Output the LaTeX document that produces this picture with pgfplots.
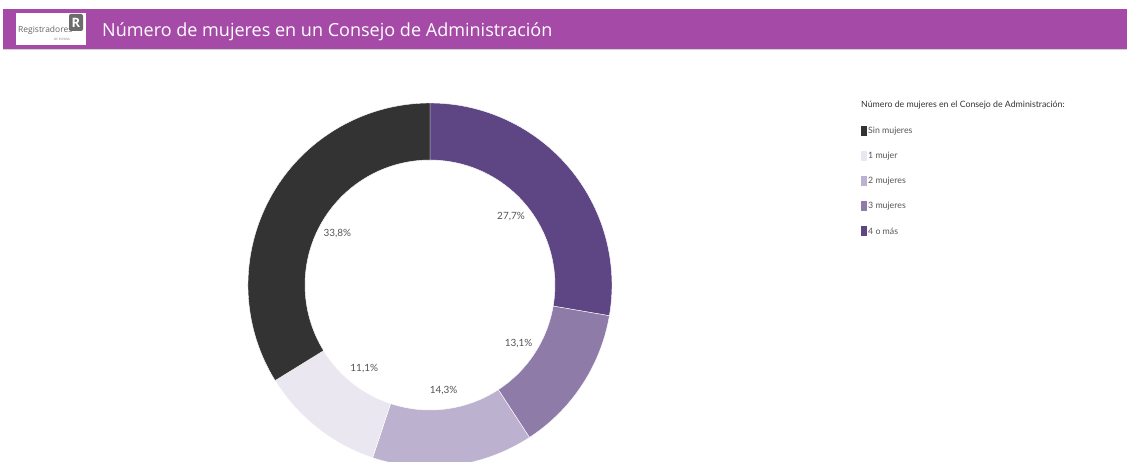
\documentclass[border=0pt]{standalone}
\usepackage{pgfplots}
\pgfplotsset{compat=1.18}
\usepackage{pgfplotstable}
\usepackage{fontspec}
\setmainfont{Open Sans}
\newfontfamily\lato{Lato}
\definecolor{hdr}{RGB}{166,74,168}
\definecolor{c0}{HTML}{333333}
\definecolor{c1}{HTML}{EBE7F0}
\definecolor{c2}{HTML}{BCB1CE}
\definecolor{c3}{HTML}{8E7BA8}
\definecolor{c4}{HTML}{5E4583}
\definecolor{lbl}{HTML}{555555}

\pgfplotstableread[col sep=comma]{
label,value
4 o más,27.7
3 mujeres,13.1
2 mujeres,14.3
1 mujer,11.1
Sin mujeres,33.8
}\donut

\begin{document}
\begin{tikzpicture}
\path[use as bounding box] (0,0) rectangle (1127bp,462bp);
\pgfplotstablegetelem{0}{value}\of\donut \let\vA\pgfplotsretval
\pgfplotstablegetelem{1}{value}\of\donut \let\vB\pgfplotsretval
\pgfplotstablegetelem{2}{value}\of\donut \let\vC\pgfplotsretval
\pgfplotstablegetelem{3}{value}\of\donut \let\vD\pgfplotsretval
\pgfplotstablegetelem{4}{value}\of\donut \let\vE\pgfplotsretval
\pgfmathsetmacro\aA{90}
\pgfmathsetmacro\aB{\aA-3.6*\vA}
\pgfmathsetmacro\aC{\aB-3.6*\vB}
\pgfmathsetmacro\aD{\aC-3.6*\vC}
\pgfmathsetmacro\aE{\aD-3.6*\vD}
\pgfmathsetmacro\aF{\aE-3.6*\vE}
\pgfmathsetmacro\mA{(\aA+\aB)/2}
\pgfmathsetmacro\mB{(\aB+\aC)/2}
\pgfmathsetmacro\mC{(\aC+\aD)/2}
\pgfmathsetmacro\mD{(\aD+\aE)/2}
\pgfmathsetmacro\mE{(\aE+\aF)/2}
\newcommand\sector[3]{%
  \fill[#3,draw=white,line width=0.4bp] (axis cs:430,177) ++(#1:182bp)
    arc[start angle=#1,end angle=#2,radius=182bp] -- ++(#2:-57bp)
    arc[start angle=#2,end angle=#1,radius=125bp] -- cycle;}
\newcommand\plabel[2]{%
  \path (axis cs:430,177) ++(#1:106bp) node[font=\lato\fontsize{10}{11}\selectfont,text=lbl]
    {\pgfmathprintnumber[fixed,fixed zerofill,precision=1,use comma,assume math mode=true]{#2}\%};}
\begin{axis}[
  at={(0,0)}, anchor=origin, disabledatascaling,
  x=1bp, y=1bp, xmin=0, xmax=1127, ymin=0, ymax=462,
  hide axis, clip=true,
]
% header
\fill[hdr] (axis cs:3,413) rectangle (axis cs:1127,453);
\fill[gray!35] (axis cs:3,411.5) rectangle (axis cs:1127,412.5);
\fill[white] (axis cs:16,417) rectangle (axis cs:86,449);
\node[anchor=base west,inner sep=0pt,font=\fontsize{8.5}{9}\selectfont,text=gray!80!black] at (axis cs:18,429) {Registradores};
\node[anchor=base,inner sep=0pt,font=\fontsize{3}{3}\selectfont,text=gray] at (axis cs:62,421) {DE ESPAÑA};
\fill[gray!85!black,rounded corners=2bp] (axis cs:69,431) rectangle (axis cs:83,448);
\node[anchor=center,inner sep=0pt,font=\bfseries\fontsize{13}{13}\selectfont,text=white] at (axis cs:76,439.5) {R};
\node[anchor=base west,inner sep=0pt,font=\fontsize{18.1}{21}\selectfont,text=white] at (axis cs:102,425) {Número de mujeres en un Consejo de Administración};
% donut
\sector{\aA}{\aB}{c4}
\sector{\aB}{\aC}{c3}
\sector{\aC}{\aD}{c2}
\sector{\aD}{\aE}{c1}
\sector{\aE}{\aF}{c0}
\plabel{\mA}{\vA}
\plabel{\mB}{\vB}
\plabel{\mC}{\vC}
\plabel{\mD}{\vD}
\plabel{\mE}{\vE}
% legend
\node[anchor=west,inner sep=0pt,font=\lato\fontsize{8.8}{10}\selectfont,text=c0] at (axis cs:861,357) {Número de mujeres en el Consejo de Administración:};
\fill[c0] (axis cs:861,326) rectangle (axis cs:867,336);
\fill[c1] (axis cs:861,301) rectangle (axis cs:867,311);
\fill[c2] (axis cs:861,276) rectangle (axis cs:867,286);
\fill[c3] (axis cs:861,251) rectangle (axis cs:867,261);
\fill[c4] (axis cs:861,226) rectangle (axis cs:867,236);
\node[anchor=west,inner sep=0pt,font=\lato\fontsize{8.8}{10}\selectfont,text=lbl] at (axis cs:868,331) {Sin mujeres};
\node[anchor=west,inner sep=0pt,font=\lato\fontsize{8.8}{10}\selectfont,text=lbl] at (axis cs:868,306) {1 mujer};
\node[anchor=west,inner sep=0pt,font=\lato\fontsize{8.8}{10}\selectfont,text=lbl] at (axis cs:868,281) {2 mujeres};
\node[anchor=west,inner sep=0pt,font=\lato\fontsize{8.8}{10}\selectfont,text=lbl] at (axis cs:868,256) {3 mujeres};
\node[anchor=west,inner sep=0pt,font=\lato\fontsize{8.8}{10}\selectfont,text=lbl] at (axis cs:868,231) {4 o más};
\end{axis}
\end{tikzpicture}
\end{document}
